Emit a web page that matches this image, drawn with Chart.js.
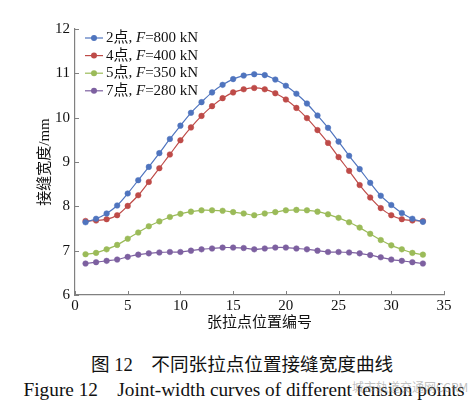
<!DOCTYPE html>
<html>
<head>
<meta charset="utf-8">
<script src="https://cdn.jsdelivr.net/npm/chart.js@4.4.0/dist/chart.umd.min.js"></script>
<style>
  body { margin: 0; background: #fff; width: 472px; height: 405px; overflow: hidden; position: relative; }
  #wrap { position: absolute; left: 0; top: 0; width: 472px; height: 340px; }
  .cap { position: absolute; left: 0; width: 472px; text-align: center; color: #111; white-space: nowrap; box-sizing: border-box; }
  #capZh { top: 349px; font: 18.6px "Liberation Serif", "Noto Sans CJK SC"; padding-left: 12px; }
  #capEn { top: 379px; font: 19.3px "Liberation Serif"; padding-left: 16px; }
  #mark { position: absolute; left: 352px; top: 378px; font: 12px "Noto Sans CJK SC"; color: rgba(140,140,140,0.55); }
</style>
</head>
<body>
<div id="wrap"><canvas id="chart"></canvas></div>
<div class="cap" id="capZh">图 12&nbsp;&nbsp;&nbsp;&nbsp;不同张拉点位置接缝宽度曲线</div>
<div class="cap" id="capEn">Figure 12&nbsp;&nbsp;&nbsp;&nbsp;Joint-width curves of different tension points</div>
<div id="mark">城市轨道交通网CCRM</div>
<script>
// Tension point positions (x)
const positions = [1, 2, 3, 4, 5, 6, 7, 8, 9, 10, 11, 12, 13, 14, 15, 16, 17,
  18, 19, 20, 21, 22, 23, 24, 25, 26, 27, 28, 29, 30, 31, 32, 33];

const seriesLabels = ['2点, F=800 kN', '4点, F=400 kN', '5点, F=350 kN', '7点, F=280 kN'];

// Joint width, mm
const point2 = [7.64, 7.72, 7.84, 8.02, 8.29, 8.59, 8.89, 9.20, 9.52, 9.82, 10.11,
  10.35, 10.57, 10.74, 10.87, 10.95, 10.98, 10.96, 10.86, 10.72, 10.54, 10.32,
  10.05, 9.77, 9.46, 9.14, 8.84, 8.53, 8.24, 8.03, 7.85, 7.72, 7.65];
const point4 = [7.67, 7.68, 7.71, 7.80, 8.01, 8.25, 8.55, 8.86, 9.17, 9.49, 9.78,
  10.04, 10.26, 10.44, 10.57, 10.64, 10.67, 10.64, 10.55, 10.41, 10.22, 9.99,
  9.72, 9.43, 9.11, 8.80, 8.48, 8.20, 7.96, 7.80, 7.71, 7.68, 7.67];
const point5 = [6.92, 6.95, 7.03, 7.13, 7.27, 7.41, 7.55, 7.66, 7.76, 7.83, 7.88,
  7.91, 7.91, 7.90, 7.87, 7.84, 7.80, 7.84, 7.87, 7.91, 7.92, 7.91, 7.88,
  7.82, 7.74, 7.64, 7.52, 7.38, 7.24, 7.12, 7.03, 6.95, 6.91];
const point7 = [6.71, 6.74, 6.77, 6.80, 6.86, 6.91, 6.94, 6.96, 6.97, 6.97, 7.00,
  7.03, 7.05, 7.07, 7.07, 7.06, 7.03, 7.05, 7.07, 7.07, 7.05, 7.03, 7.00,
  6.97, 6.97, 6.96, 6.94, 6.90, 6.85, 6.80, 6.77, 6.74, 6.71];

const colors = ['#4f74be', '#be4b48', '#9bbb59', '#7d60a0'];
const axisColor = '#808080';
const serif = '"Liberation Serif", "Noto Sans CJK SC"';

function toXY(values) {
  return positions.map((p, i) => ({ x: p, y: values[i] }));
}

// Legend with italic F, drawn inside the plot
const serifLegend = {
  id: 'serifLegend',
  afterDraw(chart) {
    const ctx = chart.ctx;
    chart.data.datasets.forEach((ds, i) => {
      const y = 38 + i * 17.6;
      ctx.save();
      ctx.strokeStyle = ds.borderColor;
      ctx.lineWidth = 1.2;
      ctx.beginPath();
      ctx.moveTo(85, y);
      ctx.lineTo(103, y);
      ctx.stroke();
      ctx.fillStyle = ds.borderColor;
      ctx.beginPath();
      ctx.arc(94, y, 3, 0, Math.PI * 2);
      ctx.fill();
      const [pre, post] = ds.label.split('F');
      ctx.fillStyle = '#111';
      ctx.textBaseline = 'middle';
      let x = 106;
      ctx.font = '15px ' + serif;
      ctx.fillText(pre, x, y);
      x += ctx.measureText(pre).width;
      ctx.font = 'italic 15px "Liberation Serif"';
      ctx.fillText('F', x, y);
      x += ctx.measureText('F').width;
      ctx.font = '15px ' + serif;
      ctx.fillText(post, x, y);
      ctx.restore();
    });
  }
};

// Short tick marks pointing into the plot
const inTicks = {
  id: 'inTicks',
  afterDraw(chart) {
    const { x, y } = chart.scales;
    const a = chart.chartArea;
    const ctx = chart.ctx;
    ctx.save();
    ctx.strokeStyle = axisColor;
    ctx.lineWidth = 1;
    x.ticks.forEach(t => {
      const px = Math.round(x.getPixelForValue(t.value)) + 0.5;
      ctx.beginPath();
      ctx.moveTo(px, a.bottom);
      ctx.lineTo(px, a.bottom - 4);
      ctx.stroke();
    });
    y.ticks.forEach(t => {
      const py = Math.round(y.getPixelForValue(t.value)) + 0.5;
      ctx.beginPath();
      ctx.moveTo(a.left, py);
      ctx.lineTo(a.left + 4, py);
      ctx.stroke();
    });
    ctx.restore();
  }
};

const ctx = document.getElementById('chart').getContext('2d');
new Chart(ctx, {
  type: 'line',
  data: {
    datasets: [point2, point4, point5, point7].map((vals, i) => ({
      label: seriesLabels[i],
      data: toXY(vals),
      borderColor: colors[i],
      backgroundColor: colors[i],
      pointBackgroundColor: colors[i],
      pointBorderColor: colors[i],
      pointRadius: 2.8,
      pointBorderWidth: 0.5,
      borderWidth: 1.2,
      tension: 0.35,
      fill: false
    }))
  },
  options: {
    responsive: true,
    maintainAspectRatio: false,
    animation: false,
    layout: { padding: { top: 29, right: 28, bottom: 0, left: 0 } },
    plugins: {
      legend: { display: false },
      tooltip: { enabled: false }
    },
    scales: {
      x: {
        type: 'linear',
        min: 0,
        max: 35,
        ticks: { stepSize: 5, color: '#111', font: { family: serif, size: 15 }, padding: 2 },
        grid: { display: false, drawTicks: false },
        border: { color: axisColor, width: 1.2 },
        title: {
          display: true,
          text: '张拉点位置编号',
          color: '#111',
          font: { family: serif, size: 15 },
          padding: { top: 8, bottom: 8 }
        },
        afterFit: (s) => { s.height = 45; }
      },
      y: {
        min: 6,
        max: 12,
        ticks: { stepSize: 1, color: '#111', font: { family: serif, size: 15 }, padding: 5 },
        grid: { display: false, drawTicks: false },
        border: { color: axisColor, width: 1.2 },
        title: {
          display: true,
          text: '接缝宽度/mm',
          color: '#111',
          font: { family: serif, size: 15 },
          padding: { top: 36, bottom: 36 }
        },
        afterFit: (s) => { s.width = 75; }
      }
    }
  },
  plugins: [serifLegend, inTicks]
});
</script>
</body>
</html>
